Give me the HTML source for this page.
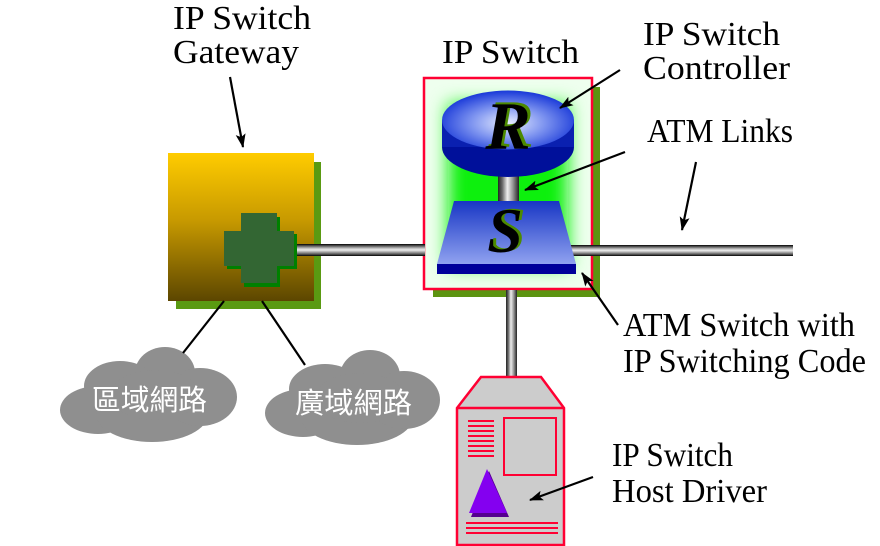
<!DOCTYPE html>
<html>
<head>
<meta charset="utf-8">
<style>
html,body{margin:0;padding:0;background:#fff;}
svg{display:block;}
.lbl{font-family:"Liberation Serif","Noto Serif CJK SC",serif;font-size:34px;fill:#000;}
.cj{font-family:"Liberation Sans","Noto Sans CJK TC","WenQuanYi Zen Hei",sans-serif;font-size:29px;fill:#fff;}
.big{font-family:"Liberation Serif",serif;font-style:italic;font-weight:bold;}
</style>
</head>
<body>
<svg width="880" height="546" viewBox="0 0 880 546" xmlns="http://www.w3.org/2000/svg">
<defs>
  <linearGradient id="gold" x1="0" y1="0" x2="0" y2="1">
    <stop offset="0" stop-color="#ffcc00"/>
    <stop offset="0.45" stop-color="#c89a00"/>
    <stop offset="1" stop-color="#5c4600"/>
  </linearGradient>
  <linearGradient id="pipeH" x1="0" y1="0" x2="0" y2="1">
    <stop offset="0" stop-color="#000"/>
    <stop offset="0.15" stop-color="#555"/>
    <stop offset="0.35" stop-color="#bbb"/>
    <stop offset="0.5" stop-color="#eee"/>
    <stop offset="0.7" stop-color="#999"/>
    <stop offset="0.85" stop-color="#555"/>
    <stop offset="1" stop-color="#000"/>
  </linearGradient>
  <linearGradient id="pipeV" x1="0" y1="0" x2="1" y2="0">
    <stop offset="0" stop-color="#222"/>
    <stop offset="0.2" stop-color="#666"/>
    <stop offset="0.45" stop-color="#eee"/>
    <stop offset="0.7" stop-color="#999"/>
    <stop offset="1" stop-color="#222"/>
  </linearGradient>
  <radialGradient id="rtop" cx="0.5" cy="0.55" r="0.55">
    <stop offset="0" stop-color="#e8eeff"/>
    <stop offset="0.5" stop-color="#7f95f0"/>
    <stop offset="1" stop-color="#1838d8"/>
  </radialGradient>
  <linearGradient id="trap" x1="0" y1="0" x2="0" y2="1">
    <stop offset="0" stop-color="#1836c4"/>
    <stop offset="1" stop-color="#90a2f0"/>
  </linearGradient>
  <filter id="blur" x="-30%" y="-30%" width="160%" height="160%">
    <feGaussianBlur stdDeviation="9"/>
  </filter>
  <clipPath id="boxclip"><rect x="424" y="78" width="168" height="211"/></clipPath>
  <marker id="ah" markerWidth="14" markerHeight="10" refX="13" refY="5" orient="auto" markerUnits="userSpaceOnUse">
    <path d="M0,0 L14,5 L0,10 L3,5 Z" fill="#000"/>
  </marker>
</defs>

<!-- Gateway -->
<rect x="176" y="162" width="145" height="147" fill="#5a9a12"/>
<rect x="168" y="153" width="146" height="148" fill="url(#gold)"/>

<!-- IP Switch box -->
<rect x="433" y="87" width="167" height="210" fill="#5c9410"/>
<rect x="424" y="78" width="168" height="211" fill="#eeffee"/>
<g clip-path="url(#boxclip)">
  <rect x="448" y="104" width="120" height="162" fill="#10f010" filter="url(#blur)"/>
</g>
<rect x="424" y="78" width="168" height="211" fill="none" stroke="#ff0033" stroke-width="2.5"/>

<!-- pipes -->
<rect x="288" y="244" width="137" height="12" fill="url(#pipeH)"/>
<rect x="565" y="245" width="228" height="11" fill="url(#pipeH)"/>
<rect x="506" y="290" width="11" height="90" fill="url(#pipeV)"/>
<rect x="498" y="172" width="21" height="31" fill="url(#pipeV)"/>

<!-- cross -->
<g fill="#008000">
  <rect x="244" y="217" width="36" height="70"/>
  <rect x="227" y="234" width="70" height="35"/>
</g>
<g fill="#336633">
  <rect x="241" y="213" width="36" height="70"/>
  <rect x="224" y="231" width="70" height="35"/>
</g>

<!-- Router -->
<ellipse cx="508" cy="147" rx="66" ry="30" fill="#00109a"/>
<rect x="442" y="120" width="132" height="27" fill="#0a20b0"/>
<ellipse cx="508" cy="120" rx="66" ry="29.5" fill="url(#rtop)"/>
<text x="511" y="147" text-anchor="middle" class="big" font-size="68" fill="#4d8a00">R</text>
<text x="508" y="149" text-anchor="middle" class="big" font-size="68" fill="#000">R</text>

<!-- Switch -->
<polygon points="454,201 559,201 576,264 437,264" fill="url(#trap)"/>
<rect x="437" y="264" width="139" height="10" fill="#00009a"/>
<text x="508" y="251" text-anchor="middle" class="big" font-size="64" fill="#4d8a00">S</text>
<text x="505" y="252" text-anchor="middle" class="big" font-size="64" fill="#000">S</text>

<!-- Host -->
<polygon points="481,377 541,377 564,408 564,545 457,545 457,408" fill="#cccccc" stroke="#ff0033" stroke-width="2.5"/>
<line x1="457" y1="408" x2="564" y2="408" stroke="#ff0033" stroke-width="2.5"/>
<g stroke="#ff0033" stroke-width="2">
  <line x1="468" y1="421" x2="494" y2="421"/>
  <line x1="468" y1="426" x2="494" y2="426"/>
  <line x1="468" y1="431" x2="494" y2="431"/>
  <line x1="468" y1="436" x2="494" y2="436"/>
  <line x1="468" y1="441" x2="494" y2="441"/>
  <line x1="468" y1="446" x2="494" y2="446"/>
  <line x1="468" y1="451" x2="494" y2="451"/>
  <line x1="468" y1="456" x2="494" y2="456"/>
  <line x1="466" y1="523" x2="558" y2="523"/>
  <line x1="466" y1="528" x2="558" y2="528"/>
  <line x1="466" y1="533" x2="558" y2="533"/>
</g>
<rect x="504" y="418" width="52" height="57" fill="none" stroke="#ff0033" stroke-width="2"/>
<polygon points="489,471 509,517 471,517" fill="#550090"/>
<polygon points="487,469 507,513 469,513" fill="#8400f0"/>

<!-- Clouds -->
<g fill="#8f8f8f">
  <ellipse cx="165" cy="373" rx="30" ry="26"/>
  <ellipse cx="120" cy="386" rx="36" ry="25"/>
  <ellipse cx="98" cy="410" rx="38" ry="24"/>
  <ellipse cx="152" cy="414" rx="56" ry="28"/>
  <ellipse cx="200" cy="397" rx="37" ry="29"/>
  <ellipse cx="155" cy="395" rx="45" ry="25"/>
</g>
<g fill="#8f8f8f">
  <ellipse cx="370" cy="376" rx="30" ry="26"/>
  <ellipse cx="325" cy="389" rx="36" ry="25"/>
  <ellipse cx="303" cy="413" rx="38" ry="24"/>
  <ellipse cx="357" cy="417" rx="56" ry="28"/>
  <ellipse cx="404" cy="400" rx="36" ry="29"/>
  <ellipse cx="360" cy="398" rx="45" ry="25"/>
</g>
<text x="92" y="410" class="cj" textLength="115" lengthAdjust="spacingAndGlyphs">區域網路</text>
<text x="295" y="413" class="cj" textLength="117" lengthAdjust="spacingAndGlyphs">廣域網路</text>

<!-- connection lines to clouds -->
<g stroke="#000" stroke-width="2.2">
  <line x1="224" y1="301" x2="183" y2="353"/>
  <line x1="262" y1="301" x2="305" y2="365"/>
</g>

<!-- arrows -->
<g stroke="#000" stroke-width="2.2" marker-end="url(#ah)">
  <line x1="230" y1="77" x2="243" y2="147"/>
  <line x1="620" y1="70" x2="560" y2="108"/>
  <line x1="625" y1="152" x2="525" y2="190"/>
  <line x1="696" y1="162" x2="682" y2="230"/>
  <line x1="618" y1="325" x2="582" y2="273"/>
  <line x1="593" y1="477" x2="530" y2="500"/>
</g>

<!-- labels -->
<text x="173" y="29" class="lbl" textLength="138" lengthAdjust="spacingAndGlyphs">IP Switch</text>
<text x="173" y="63" class="lbl" textLength="126" lengthAdjust="spacingAndGlyphs">Gateway</text>
<text x="442" y="63" class="lbl" textLength="137" lengthAdjust="spacingAndGlyphs">IP Switch</text>
<text x="643" y="45" class="lbl" textLength="137" lengthAdjust="spacingAndGlyphs">IP Switch</text>
<text x="643" y="79" class="lbl" textLength="147" lengthAdjust="spacingAndGlyphs">Controller</text>
<text x="647" y="142" class="lbl" textLength="146" lengthAdjust="spacingAndGlyphs">ATM Links</text>
<text x="623" y="336" class="lbl" textLength="232" lengthAdjust="spacingAndGlyphs">ATM Switch with</text>
<text x="623" y="372" class="lbl" textLength="243" lengthAdjust="spacingAndGlyphs">IP Switching Code</text>
<text x="612" y="466" class="lbl" textLength="121" lengthAdjust="spacingAndGlyphs">IP Switch</text>
<text x="612" y="502" class="lbl" textLength="155" lengthAdjust="spacingAndGlyphs">Host Driver</text>
</svg>
</body>
</html>
